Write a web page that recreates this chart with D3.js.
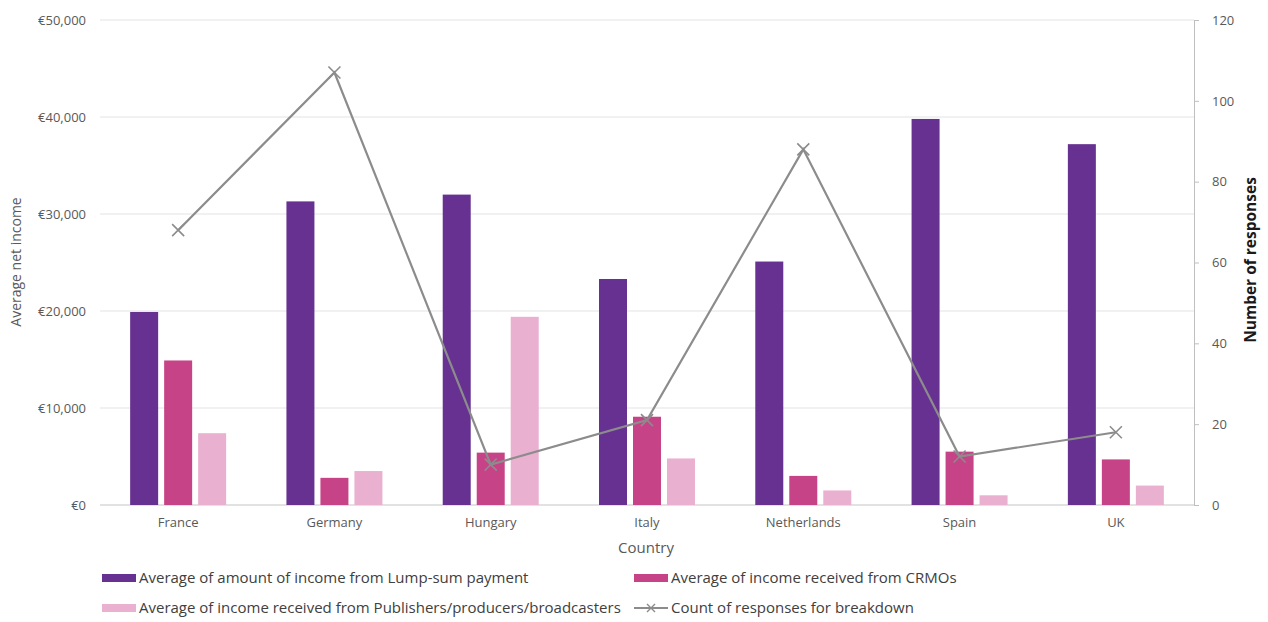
<!DOCTYPE html>
<html><head><meta charset="utf-8">
<script src="https://cdn.jsdelivr.net/npm/d3@7"></script>
<style>body{margin:0;background:#fff;font-family:"Open Sans",Lato,sans-serif;}</style>
</head><body><svg id="c" width="1268" height="622"></svg>
<script>
const countries = ["France","Germany","Hungary","Italy","Netherlands","Spain","UK"];
const lumpSum = [19900,31300,32000,23300,25100,39800,37200];
const crmo = [14900,2800,5400,9100,3000,5500,4700];
const publishers = [7400,3500,19400,4800,1500,1000,2000];
const responses = [68,107,10,21,88,12,18];
const leftTicks = [0,10000,20000,30000,40000,50000];
const rightTicks = [0,20,40,60,80,100,120];
const seriesNames = ["Average of amount of income from Lump-sum payment","Average of income received from CRMOs","Average of income received from Publishers/producers/broadcasters","Count of responses for breakdown"];
const colors = ["#663190","#c74387","#e9b0d0","#8c8c8c"];

const svg = d3.select("#c").attr("font-family","'Open Sans',Lato,sans-serif");
const L=100,R=1194,T=20,B=505;
const x = d3.scaleBand().domain(countries).range([L,R]);
const yL = d3.scaleLinear().domain([0,50000]).range([B,T]);
const yR = d3.scaleLinear().domain([0,120]).range([B,T]);
const bw=28,gap=6;
const series=[lumpSum,crmo,publishers];

svg.append("g").selectAll("line").data(leftTicks).join("line")
 .attr("x1",L).attr("x2",R).attr("y1",d=>yL(d)).attr("y2",d=>yL(d))
 .attr("stroke",d=>d===0?"#d9d9d9":"#ececec").attr("stroke-width",1.3);

const fmt = d=>"€"+d3.format(",")(d);
svg.append("g").selectAll("text").data(leftTicks).join("text")
 .attr("x",L-14).attr("y",d=>yL(d)+4.5).attr("text-anchor","end")
 .attr("font-size",13).attr("fill","#595959").text(fmt);

series.forEach((s,i)=>{
 svg.append("g").selectAll("rect").data(s).join("rect")
  .attr("x",(d,j)=>x(countries[j])+x.bandwidth()/2-(1.5*bw+gap)+i*(bw+gap))
  .attr("width",bw).attr("y",d=>yL(d)).attr("height",d=>B-yL(d))
  .attr("fill",colors[i]);
});

const ra = svg.append("g").attr("transform",`translate(${R},0)`).call(d3.axisRight(yR).tickValues(rightTicks).tickSize(5).tickPadding(13));
ra.select(".domain").attr("stroke","#bfbfbf");
ra.selectAll(".tick line").attr("stroke","#bfbfbf");
ra.selectAll("text").attr("font-size",13).attr("fill","#595959").attr("font-family","'Open Sans',sans-serif");

const cx = c=>x(c)+x.bandwidth()/2;
svg.append("path").datum(responses)
 .attr("d",d3.line().x((d,j)=>cx(countries[j])).y(d=>yR(d)))
 .attr("fill","none").attr("stroke",colors[3]).attr("stroke-width",2.2);
svg.append("g").selectAll("path").data(responses).join("path")
 .attr("d",(d,j)=>{const px=cx(countries[j]),py=yR(d),s=6;return `M${px-s},${py-s}L${px+s},${py+s}M${px-s},${py+s}L${px+s},${py-s}`;})
 .attr("stroke",colors[3]).attr("stroke-width",1.6);

svg.append("g").selectAll("text").data(countries).join("text")
 .attr("x",d=>cx(d)).attr("y",B+22).attr("text-anchor","middle")
 .attr("font-size",13).attr("fill","#595959").text(d=>d);

svg.append("text").attr("x",646).attr("y",553).attr("text-anchor","middle").attr("font-size",15).attr("fill","#595959").text("Country");
svg.append("text").attr("transform","translate(21,262) rotate(-90)").attr("text-anchor","middle").attr("font-size",14).attr("fill","#595959").text("Average net income");
svg.append("text").attr("transform","translate(1256,260) rotate(-90)").attr("text-anchor","middle").attr("font-size",15.5).attr("font-weight","bold").attr("fill","#1a1a1a").text("Number of responses");

const leg=[{x:102,y:578,i:0},{x:634,y:578,i:1},{x:102,y:608,i:2},{x:634,y:608,i:3}];
leg.forEach(l=>{
 const g=svg.append("g");
 if(l.i<3){
  g.append("rect").attr("x",l.x).attr("y",l.y-4).attr("width",34).attr("height",8).attr("fill",colors[l.i]);
 } else {
  g.append("line").attr("x1",l.x).attr("x2",l.x+34).attr("y1",l.y).attr("y2",l.y).attr("stroke",colors[3]).attr("stroke-width",2.2);
  const mx=l.x+17;
  g.append("path").attr("d",`M${mx-4},${l.y-4}L${mx+4},${l.y+4}M${mx-4},${l.y+4}L${mx+4},${l.y-4}`).attr("stroke",colors[3]).attr("stroke-width",1.4);
 }
 g.append("text").attr("x",l.x+37).attr("y",l.y+5).attr("font-size",15).attr("fill","#404040").text(seriesNames[l.i]);
});
</script></body></html>
